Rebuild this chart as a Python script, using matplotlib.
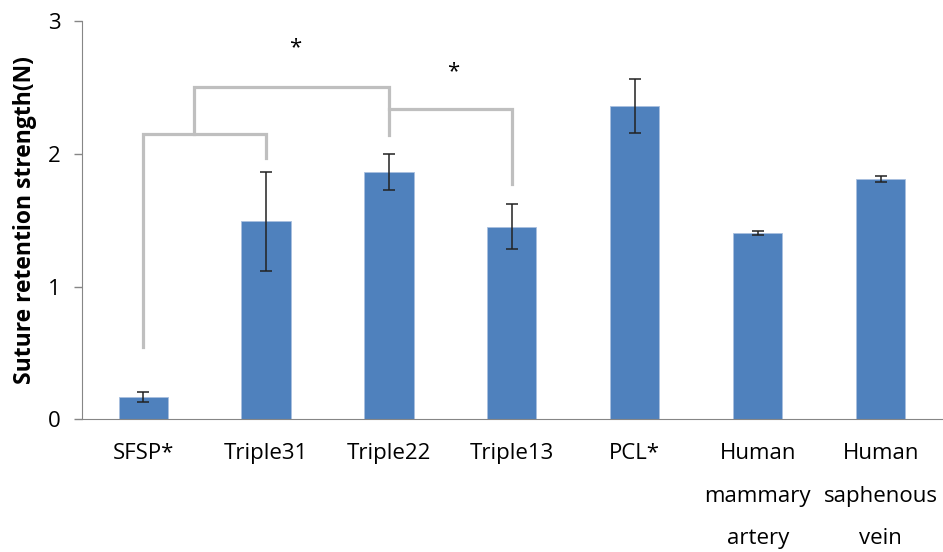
import numpy as np
import matplotlib.pyplot as plt

plt.rcParams['font.family'] = ['Open Sans', 'DejaVu Sans']

# sample groups and measured suture retention strength
groups = ['SFSP*', 'Triple31', 'Triple22', 'Triple13', 'PCL*',
          'Human\nmammary\nartery', 'Human\nsaphenous\nvein']
strength = [0.17, 1.49, 1.86, 1.45, 2.36, 1.40, 1.81]
err = [0.036, 0.37, 0.135, 0.17, 0.20, 0.015, 0.022]

fig = plt.figure(figsize=(9.43, 5.52), dpi=100)
ax = fig.add_axes([0.0866, 0.2404, 0.9125, 0.7216])

x = np.arange(len(groups))
ax.bar(x, strength, width=0.4, color='#4F81BD', edgecolor='#A9C0DF',
       linewidth=0.6, zorder=2)
ax.errorbar(x, strength, yerr=err, fmt='none', ecolor='#222222',
            elinewidth=1.1, capsize=4.2, capthick=1.1, zorder=3)

# significance brackets
bc = '#BFBFBF'
lw = 2.3
ax.plot([0, 0, 1.0, 1.0], [0.545, 2.15, 2.15, 1.97], color=bc, lw=lw,
        solid_joinstyle='miter', zorder=1)
ax.plot([0.41, 0.41, 2.0, 2.0], [2.15, 2.505, 2.505, 2.14], color=bc, lw=lw,
        solid_joinstyle='miter', zorder=1)
ax.plot([2.0, 3.0, 3.0], [2.34, 2.34, 1.77], color=bc, lw=lw,
        solid_joinstyle='miter', zorder=1)
ax.text(1.24, 2.80, '*', ha='center', va='center', fontsize=16)
ax.text(2.52, 2.62, '*', ha='center', va='center', fontsize=16)

ax.set_xlim(-0.5, 6.5)
ax.set_ylim(0, 3)
ax.set_yticks([0, 1, 2, 3])
ax.set_xticks(x)
ax.set_xticklabels(groups, linespacing=2.35)
ax.tick_params(axis='x', length=0, pad=17, labelsize=16)
ax.tick_params(axis='y', length=6, width=1, color='#868686', pad=9,
               labelsize=16)
ax.set_ylabel('Suture retention strength(N)', fontsize=16.5,
              fontweight='bold', labelpad=8)

for side in ['top', 'right']:
    ax.spines[side].set_visible(False)
ax.spines['left'].set_color('#868686')
ax.spines['bottom'].set_color('#868686')

fig.savefig('out.png', dpi=100)
